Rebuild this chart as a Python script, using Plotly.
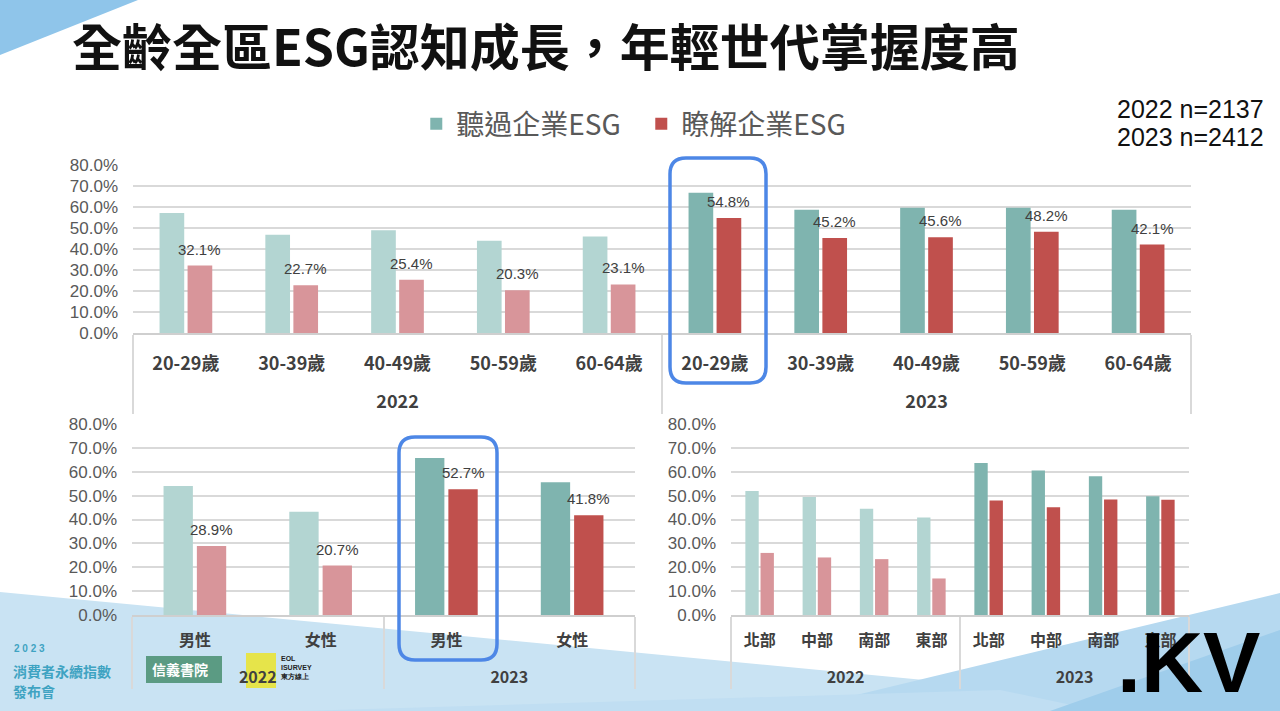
import plotly.graph_objects as go

# ---------------- data ----------------
age_groups = ["20-29歲", "30-39歲", "40-49歲", "50-59歲", "60-64歲"]
genders = ["男性", "女性"]
regions = ["北部", "中部", "南部", "東部"]
years = ["2022", "2023"]

age_heard_2022 = [0.572, 0.468, 0.489, 0.439, 0.460]
age_aware_2022 = [0.321, 0.227, 0.254, 0.203, 0.231]
age_heard_2023 = [0.668, 0.587, 0.596, 0.596, 0.587]
age_aware_2023 = [0.548, 0.452, 0.456, 0.482, 0.421]

gender_heard_2022 = [0.540, 0.432]
gender_aware_2022 = [0.289, 0.207]
gender_heard_2023 = [0.658, 0.556]
gender_aware_2023 = [0.527, 0.418]

region_heard_2022 = [0.519, 0.494, 0.445, 0.408]
region_aware_2022 = [0.260, 0.241, 0.234, 0.153]
region_heard_2023 = [0.637, 0.605, 0.581, 0.497]
region_aware_2023 = [0.480, 0.451, 0.484, 0.483]

series_names = ["聽過企業ESG", "瞭解企業ESG"]
sample_notes = ["2022 n=2137", "2023 n=2412"]
title_text = "全齡全區ESG認知成長，年輕世代掌握度高"

# ---------------- styles ----------------
C_HEARD = {"2022": "#b3d5d2", "2023": "#7fb4af"}
C_AWARE = {"2022": "#d8959a", "2023": "#c0504d"}
CJK = "Noto Sans CJK TC"
ARIAL = "Liberation Sans"
GRID = "#d9d9d9"
BARGAP = 0.47

fig = go.Figure()
label_anns = []


def add_panel(cats, h22, a22, h23, a23, xa, ya, labels):
    # year label drawn one line lower (leading line break) to leave room like the original
    xs = [["<br>" + y for y in years for _ in cats], [c for _ in years for c in cats]]
    yrs = [y for y in years for _ in cats]
    heard = h22 + h23
    aware = a22 + a23
    fig.add_trace(go.Bar(
        x=xs, y=heard, name=series_names[0], showlegend=False,
        marker=dict(color=[C_HEARD[y] for y in yrs], line=dict(width=0)),
        xaxis=xa, yaxis=ya, hoverinfo="skip"))
    fig.add_trace(go.Bar(
        x=xs, y=aware, name=series_names[1], showlegend=False,
        marker=dict(color=[C_AWARE[y] for y in yrs], line=dict(width=0)),
        xaxis=xa, yaxis=ya, hoverinfo="skip"))
    if labels:
        off = (1 - BARGAP) / 4  # centre of the second bar in each group
        for i, v in enumerate(aware):
            label_anns.append(dict(
                x=i + off, y=v, xref=xa, yref=ya, text=f"{v:.1%}", showarrow=False,
                xanchor="center", yanchor="bottom", yshift=6,
                font=dict(family=ARIAL, size=15, color="#404040")))


add_panel(age_groups, age_heard_2022, age_aware_2022, age_heard_2023, age_aware_2023, "x", "y", True)
add_panel(genders, gender_heard_2022, gender_aware_2022, gender_heard_2023, gender_aware_2023, "x2", "y2", True)
add_panel(regions, region_heard_2022, region_aware_2022, region_heard_2023, region_aware_2023, "x3", "y3", False)

# legend entries (on hidden axes)
fig.add_trace(go.Scatter(x=[None], y=[None], mode="markers", name=series_names[0],
                         marker=dict(symbol="square", size=18, color=C_HEARD["2023"]),
                         xaxis="x4", yaxis="y4"))
fig.add_trace(go.Scatter(x=[None], y=[None], mode="markers", name=series_names[1],
                         marker=dict(symbol="square", size=18, color=C_AWARE["2023"]),
                         xaxis="x4", yaxis="y4"))


def xaxis_style(domain, anchor, standoff, size):
    return dict(
        domain=domain, anchor=anchor, type="multicategory",
        showline=True, linecolor="#cfcfcf", linewidth=1.5,
        showdividers=True, dividercolor=GRID, dividerwidth=1.5,
        ticks="", ticklabelstandoff=standoff,
        tickfont=dict(family=CJK, size=size, color="#404040", weight="bold"),
        showgrid=False, zeroline=False, fixedrange=True, automargin=False)


def yaxis_style(domain, anchor):
    return dict(
        domain=domain, anchor=anchor, range=[0, 0.8], dtick=0.1,
        tickformat=".1%", showgrid=True, gridcolor=GRID, gridwidth=1.5,
        zeroline=False, showline=False, ticks="", ticklabelstandoff=14,
        tickfont=dict(family=ARIAL, size=17, color="#595959"), fixedrange=True,
        automargin=False)


W, H = 1280, 711
px = lambda v: v / W
py = lambda v: 1 - v / H

fig.update_layout(
    width=W, height=H,
    margin=dict(l=0, r=0, t=0, b=0, pad=0, autoexpand=False),
    paper_bgcolor="white", plot_bgcolor="rgba(0,0,0,0)",
    barmode="group", bargap=BARGAP, bargroupgap=0.12,
    xaxis=xaxis_style([px(133), px(1191)], "y", 14, 18),
    yaxis=yaxis_style([py(333), py(165)], "x"),
    xaxis2=xaxis_style([px(132), px(635)], "y2", 10, 16),
    yaxis2=yaxis_style([py(615), py(424)], "x2"),
    xaxis3=xaxis_style([px(731), px(1189)], "y3", 10, 16),
    yaxis3=yaxis_style([py(615), py(424)], "x3"),
    xaxis4=dict(domain=[0, 0.01], anchor="y4", visible=False),
    yaxis4=dict(domain=[0, 0.01], anchor="x4", visible=False),
    showlegend=True,
    legend=dict(orientation="h", x=0.501, xanchor="center", y=py(124), yanchor="middle",
                font=dict(family=CJK, size=28, color="#595959"),
                entrywidth=180, entrywidthmode="pixels",
                bgcolor="rgba(0,0,0,0)", itemsizing="constant", traceorder="normal"),
)

shapes = []
# background decorations
shapes.append(dict(type="path", xref="paper", yref="paper", layer="below",
                   path=f"M 0 1 L {px(138)} 1 L 0 {py(55)} Z",
                   fillcolor="#8fc5ea", line=dict(width=0)))
shapes.append(dict(type="path", xref="paper", yref="paper", layer="below",
                   path=f"M 0 {py(592)} L {px(1250)} 0 L 0 0 Z",
                   fillcolor="#c9e3f3", line=dict(width=0)))
shapes.append(dict(type="path", xref="paper", yref="paper", layer="below",
                   path=f"M {px(790)} 0 L 1 {py(593)} L 1 0 Z",
                   fillcolor="#b6d9f0", line=dict(width=0)))
shapes.append(dict(type="path", xref="paper", yref="paper", layer="below",
                   path=f"M {px(300)} 0 L {px(1000)} {py(690)} L {px(1100)} 0 Z",
                   fillcolor="#c0def2", line=dict(width=0)))
shapes.append(dict(type="path", xref="paper", yref="paper", layer="below",
                   path=f"M {px(1050)} 0 L 1 {py(630)} L 1 0 Z",
                   fillcolor="#9fcdeb", line=dict(width=0)))

# logo blocks (approximate), under the axis labels
shapes.append(dict(type="rect", xref="paper", yref="paper", layer="below",
                   x0=px(146), x1=px(222), y0=py(683), y1=py(656),
                   fillcolor="#5b9b83", line=dict(width=0)))
shapes.append(dict(type="rect", xref="paper", yref="paper", layer="below",
                   x0=px(246), x1=px(276), y0=py(688), y1=py(653),
                   fillcolor="#e6e44a", line=dict(width=0)))


def rounded(x0, y0, x1, y1, r):
    rx, ry = r / W, r / H
    X0, X1, Y0, Y1 = px(x0), px(x1), py(y0), py(y1)
    return (f"M {X0+rx} {Y0} L {X1-rx} {Y0} Q {X1} {Y0} {X1} {Y0-ry} "
            f"L {X1} {Y1+ry} Q {X1} {Y1} {X1-rx} {Y1} L {X0+rx} {Y1} "
            f"Q {X0} {Y1} {X0} {Y1+ry} L {X0} {Y0-ry} Q {X0} {Y0} {X0+rx} {Y0} Z")


for box in [(670, 158, 766, 383), (399, 437, 497, 660)]:
    shapes.append(dict(type="path", xref="paper", yref="paper", layer="above",
                       path=rounded(*box, 16), line=dict(color="#4d87e6", width=3.5)))
fig.update_layout(shapes=shapes)

ann = list(label_anns)
ann.append(dict(text=title_text, xref="paper", yref="paper", x=px(70), y=py(44),
                xanchor="left", yanchor="middle", showarrow=False,
                font=dict(family=CJK, size=50, color="#111111", weight="bold")))
for i, t in enumerate(sample_notes):
    ann.append(dict(text=t, xref="paper", yref="paper", x=px(1266), y=py(109 + 28 * i),
                    xanchor="right", yanchor="middle", showarrow=False,
                    font=dict(family=ARIAL, size=25, color="#111111")))
# bottom-left branding
ann.append(dict(text="2 0 2 3", xref="paper", yref="paper", x=px(12), y=py(648),
                xanchor="left", yanchor="middle", showarrow=False,
                font=dict(family=ARIAL, size=10, color="#3fa3c2", weight="bold")))
ann.append(dict(text="消費者永續指數", xref="paper", yref="paper", x=px(11), y=py(671),
                xanchor="left", yanchor="middle", showarrow=False,
                font=dict(family=CJK, size=14, color="#3fa3c2", weight="bold")))
ann.append(dict(text="發布會", xref="paper", yref="paper", x=px(11), y=py(691),
                xanchor="left", yanchor="middle", showarrow=False,
                font=dict(family=CJK, size=14, color="#3fa3c2", weight="bold")))
ann.append(dict(text="信義書院", xref="paper", yref="paper", x=px(150), y=py(669),
                xanchor="left", yanchor="middle", showarrow=False,
                font=dict(family=CJK, size=14, color="white", weight="bold")))
ann.append(dict(text="EOL<br>ISURVEY<br>東方線上", xref="paper", yref="paper", x=px(278), y=py(668),
                xanchor="left", yanchor="middle", showarrow=False, align="left",
                font=dict(family=ARIAL, size=7, color="#222222", weight="bold")))
ann.append(dict(text=".KV", xref="paper", yref="paper", x=px(1262), y=py(662),
                xanchor="right", yanchor="middle", showarrow=False,
                font=dict(family=ARIAL, size=86, color="#000000", weight="bold")))
fig.update_layout(annotations=ann)

fig.write_html("out.html", config={"displayModeBar": False},
               post_script="document.body.style.margin='0';document.body.style.overflow='hidden';")
